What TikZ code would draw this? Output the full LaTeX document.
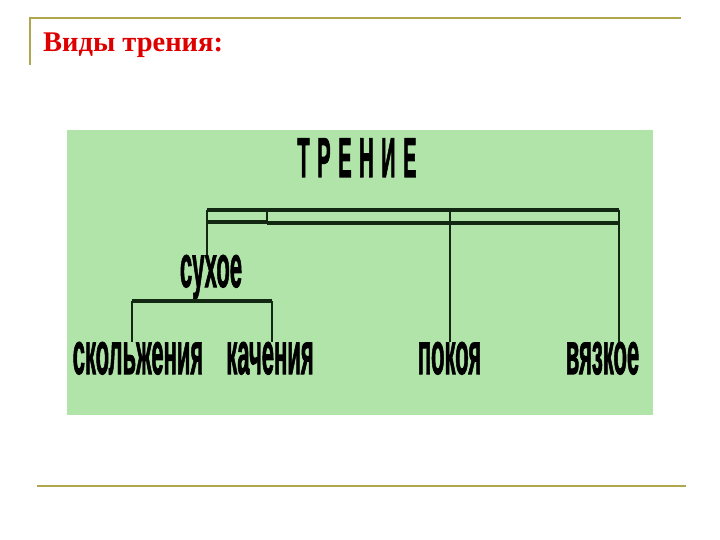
\documentclass[tikz,border=0pt]{standalone}
\usepackage{fontspec}
\setmainfont{Liberation Serif}
\newfontfamily\lsans[BoldFeatures={FakeBold=2}]{Liberation Sans}
\newfontfamily\lsanswide[LetterSpace=38,BoldFeatures={FakeBold=2.5,LetterSpace=38}]{Liberation Sans}
\usepackage{graphicx}
\definecolor{oliveline}{RGB}{176,166,78}
\definecolor{titlered}{RGB}{222,0,0}
\definecolor{panelgreen}{RGB}{176,228,168}
\definecolor{inkgreen}{RGB}{18,40,18}
\tikzset{
  lw/.style={anchor=base,inner sep=0pt,outer sep=0pt,text=black,
    font=\lsans\bfseries\fontsize{22}{22}\selectfont},
  capw/.style={anchor=base,inner sep=0pt,outer sep=0pt,text=black,
    font=\lsanswide\bfseries\fontsize{20}{20}\selectfont},
  bar/.style={draw=inkgreen,line width=3.8pt},
  stem/.style={draw=inkgreen,line width=2.4pt},
  frame/.style={draw=oliveline,line width=2pt},
}
\newcommand{\tall}[1]{\scalebox{1}[2.7]{#1}}
\begin{document}
\begin{tikzpicture}[x=1pt,y=-1pt]
\useasboundingbox (0,0) rectangle (720,540);
% slide frame
\draw[frame] (30,65) -- (30,18) -- (681,18);
\draw[frame,line width=2.8pt] (37,486) -- (686,486);
\node[anchor=base west,inner sep=0pt,text=titlered,
  font=\bfseries\fontsize{28.5}{30}\selectfont] (title) at (43,52) {Виды трения:};
% panel
\fill[panelgreen] (67,130) rectangle (653,415);
\node[capw] (trenie) at (357,177) {\scalebox{1}[2.8]{ТРЕНИЕ}};
\node[lw] (suhoe) at (211,287) {\tall{сухое}};
\node[lw] (skol) at (138,374) {\tall{скольжения}};
\node[lw] (kach) at (270,374) {\tall{качения}};
\node[lw] (pokoya) at (449.5,374) {\tall{покоя}};
\node[lw] (vyazk) at (602.5,374) {\tall{вязкое}};
% double bar
\coordinate (b1) at (207,210);
\coordinate (b2) at (267,210);
\coordinate (b3) at (450,210);
\coordinate (b4) at (619,210);
\coordinate (c1) at (207,222);
\coordinate (c2) at (267,222);
\coordinate (c4) at (619,223);
\draw[bar] (b1) -- (b4);
\draw[bar] (c1) -- (c2);
\draw[bar] (c2 |- c4) -- (c4);
\draw[stem] (b2) -- (c2);
\draw[stem] (b1) -- (b1 |- suhoe.north);
\draw[stem] (b3) -- (b3 |- pokoya.north);
\draw[stem] (b4) -- (b4 |- vyazk.north);
% bracket under сухое
\coordinate (k1) at (132,301);
\coordinate (k2) at (272,301);
\coordinate (ks) at (196,301);
\draw[bar] (k1) -- (k2);
\draw[stem] (ks) -- (ks |- suhoe.south);
\draw[stem] (k1) -- (k1 |- skol.north);
\draw[stem] (k2) -- (k2 |- kach.north);
\end{tikzpicture}
\end{document}
